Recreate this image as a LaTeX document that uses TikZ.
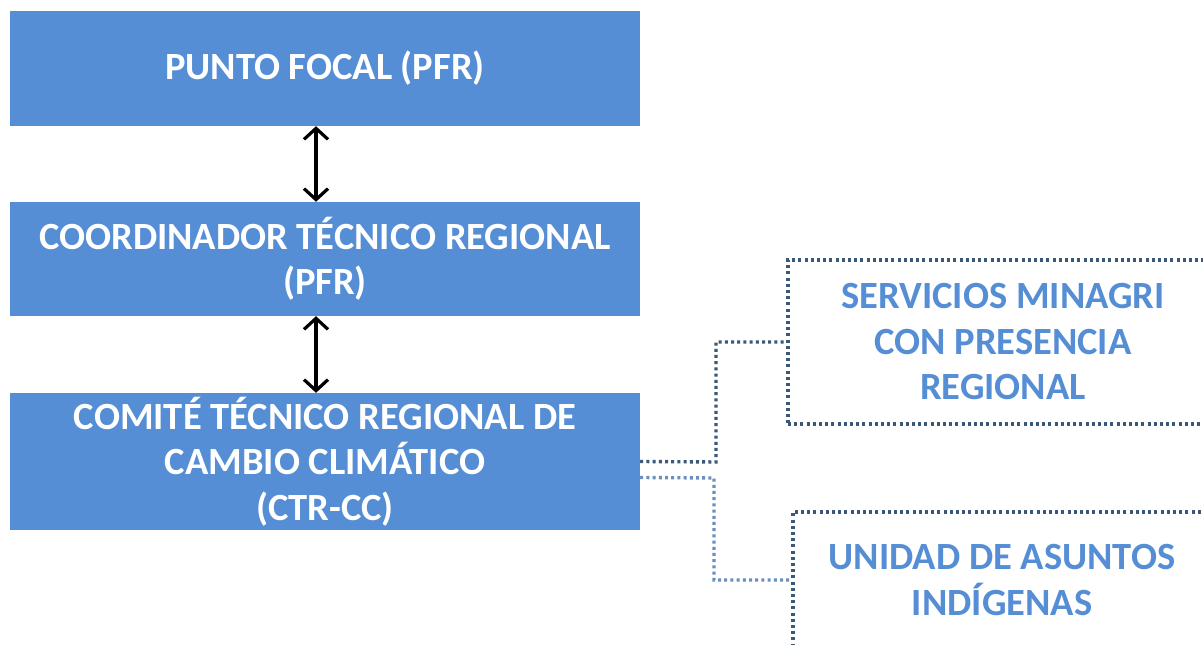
\documentclass[tikz,border=0pt]{standalone}
\usepackage{fontspec}
\setmainfont{Carlito}
\usetikzlibrary{arrows.meta}
\definecolor{boxblue}{HTML}{558ED5}
\definecolor{dotdark}{HTML}{3A5878}
\definecolor{dotlight}{HTML}{6A8FC0}
\tikzset{
  bluebox/.style={draw=none, fill=boxblue, text=white, font=\bfseries\fontsize{38.5}{45.5}\selectfont,
    align=center, minimum width=630pt, inner sep=0pt},
  dotbox/.style={draw=dotdark, line width=3.4pt, dash pattern=on 3pt off 3.2pt,
    text=boxblue, font=\bfseries\fontsize{38.5}{45.5}\selectfont, align=center, inner sep=0pt},
  dotline/.style={draw=dotdark, line width=3.4pt, dash pattern=on 3pt off 3.2pt},
  dotlinelight/.style={draw=dotlight, line width=3.4pt, dash pattern=on 3pt off 3.2pt},
  dblarrow/.style={line width=3.2pt, {Straight Barb[length=11pt,width=24pt]}-{Straight Barb[length=11pt,width=24pt]}}
}
\begin{document}
\begin{tikzpicture}[x=1pt,y=1pt]
\clip (0,0) rectangle (1203,645);
\fill[white] (0,0) rectangle (1203,645);
\node[bluebox, minimum height=115pt] (b1) at (325,576.5) {PUNTO FOCAL (PFR)};
\node[bluebox, minimum height=114pt] (b2) at (325,386) {COORDINADOR TÉCNICO REGIONAL\\(PFR)};
\node[bluebox, minimum height=137pt] (b3) at (325,183.5) {COMITÉ TÉCNICO REGIONAL DE\\CAMBIO CLIMÁTICO\\(CTR-CC)};
\draw[dblarrow] ([xshift=-9pt]b1.south) -- ([xshift=-9pt]b2.north);
\draw[dblarrow] ([xshift=-9pt]b2.south) -- ([xshift=-9pt]b3.north);
\node[dotbox, minimum width=430pt, minimum height=164pt] (d1) at (1003,303) {SERVICIOS MINAGRI\\CON PRESENCIA\\REGIONAL};
\node[dotbox, minimum width=418pt, minimum height=136pt] (d2) at (1002,65) {UNIDAD DE ASUNTOS\\INDÍGENAS};
\coordinate (j1) at (716,183);
\coordinate (j2) at (714,167);
\draw[dotline] (b3.east) -- (j1) |- (d1.west);
\draw[dotlinelight] ([yshift=-16pt]b3.east) -- (j2) |- (d2.west);
\end{tikzpicture}
\end{document}
